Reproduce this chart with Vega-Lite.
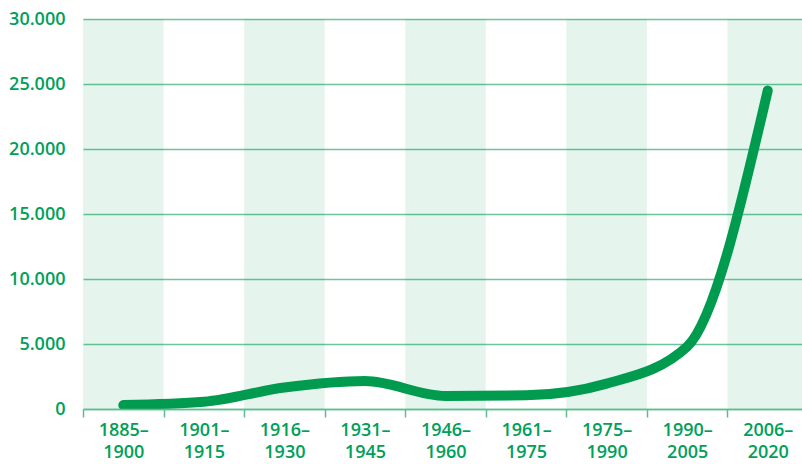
{
  "$schema": "https://vega.github.io/schema/vega-lite/v6.json",
  "width": 725,
  "height": 390,
  "autosize": "none",
  "padding": {"left": 83, "top": 19, "right": 0, "bottom": 55},
  "background": "white",
  "data": {
    "values": [
      {"period": "1885–1900", "value": 300},
      {"period": "1901–1915", "value": 550},
      {"period": "1916–1930", "value": 1650},
      {"period": "1931–1945", "value": 2150},
      {"period": "1946–1960", "value": 1000},
      {"period": "1961–1975", "value": 1050},
      {"period": "1975–1990", "value": 1950},
      {"period": "1990–2005", "value": 4800},
      {"period": "2006–2020", "value": 24500}
    ]
  },
  "encoding": {
    "x": {
      "field": "period",
      "type": "nominal",
      "scale": {
        "domain": ["1885–1900", "1901–1915", "1916–1930", "1931–1945", "1946–1960", "1961–1975", "1975–1990", "1990–2005", "2006–2020"],
        "paddingInner": 0,
        "paddingOuter": 0
      },
      "axis": {
        "title": null,
        "labelAngle": 0,
        "tickBand": "extent",
        "domainColor": "#5dbd8f",
        "domainWidth": 1.5,
        "tickColor": "#5dbd8f",
        "tickWidth": 1.5,
        "tickSize": 8,
        "labelExpr": "[slice(datum.label, 0, 5), slice(datum.label, 5)]",
        "labelFont": "Open Sans",
        "labelFontWeight": 600,
        "labelFontSize": 18,
        "labelLineHeight": 22,
        "labelPadding": 4,
        "labelColor": "#00a05a",
        "grid": false
      }
    }
  },
  "layer": [
    {
      "transform": [{"filter": {"field": "period", "oneOf": ["1885–1900", "1916–1930", "1946–1960", "1975–1990", "2006–2020"]}}],
      "mark": {"type": "rect", "color": "#00a057", "opacity": 0.1},
      "encoding": {
        "y": {"datum": 30000, "type": "quantitative", "scale": {"domain": [0, 30000], "nice": false}},
        "y2": {"datum": 0}
      }
    },
    {
      "mark": {"type": "line", "interpolate": "monotone", "strokeWidth": 10, "strokeCap": "round", "strokeJoin": "round", "color": "#009b4e"},
      "encoding": {
        "y": {
          "field": "value",
          "type": "quantitative",
          "scale": {"domain": [0, 30000], "nice": false}
        }
      }
    }
  ],
  "config": {
    "view": {"stroke": null},
    "axisY": {
      "title": null,
      "tickCount": 6,
      "domain": false,
      "ticks": false,
      "grid": true,
      "gridColor": "#6cc49a",
      "gridWidth": 1.5,
      "gridOpacity": 1,
      "labelExpr": "replace(format(datum.value, ','), ',', '.')",
      "labelFont": "Open Sans",
      "labelFontWeight": 600,
      "labelFontSize": 18,
      "labelColor": "#00a05a",
      "labelPadding": 18
    }
  }
}
